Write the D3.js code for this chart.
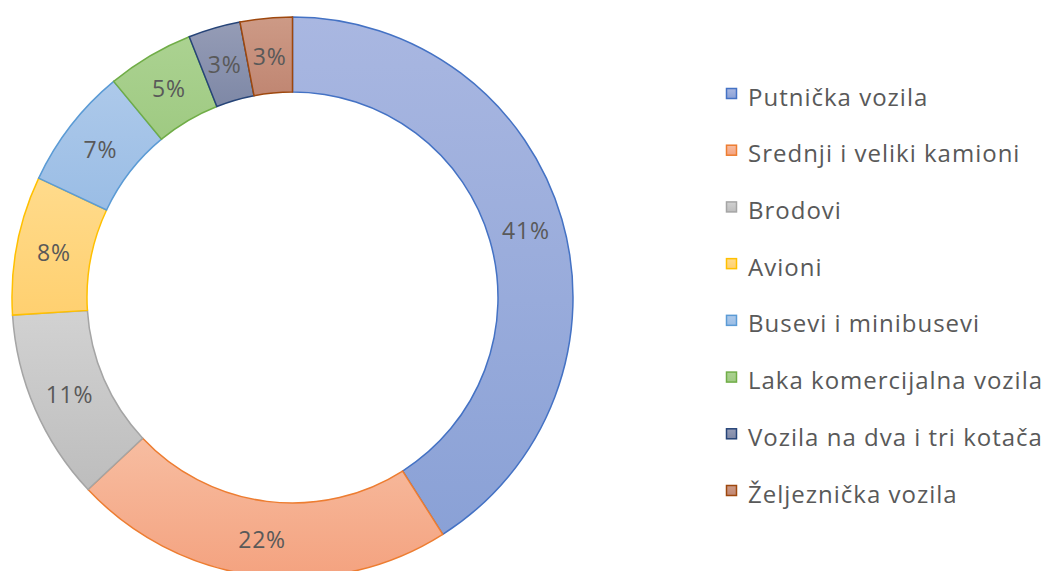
<!DOCTYPE html>
<html>
<head>
<meta charset="utf-8">
<script src="https://cdn.jsdelivr.net/npm/d3@7"></script>
<style>
  html, body { margin: 0; padding: 0; background: #fff; }
  svg { display: block; }
</style>
</head>
<body>
<div id="general"></div>
<script>
const w = 1049, h = 571;

// data
const categories = ["Putnička vozila", "Srednji i veliki kamioni", "Brodovi", "Avioni",
  "Busevi i minibusevi", "Laka komercijalna vozila", "Vozila na dva i tri kotača", "Željeznička vozila"];
const values = [41, 22, 11, 8, 7, 5, 3, 3];
const strokes = ["#4472C4", "#ED7D31", "#A5A5A5", "#FFC000", "#5B9BD5", "#70AD47", "#264478", "#9E480E"];
const fillTop = ["#a9b7e1", "#f7bda1", "#d2d2d2", "#ffdb8c", "#adc9ea", "#abd291", "#959cb6", "#cd9a86"];
const fillBottom = ["#8aa1d6", "#f4a27f", "#bdbdbd", "#ffd070", "#9abde5", "#9fca82", "#7e88a6", "#c08672"];

const cx = 292.5, cy = 297.5, rOuter = 280.5, rInner = 205.5;
const font = "Open Sans, sans-serif";

const svg = d3.select("#general").append("svg").attr("width", w).attr("height", h);
const defs = svg.append("defs");

categories.forEach((c, i) => {
  const g = defs.append("linearGradient").attr("id", "grad" + i)
    .attr("x1", 0).attr("y1", 0).attr("x2", 0).attr("y2", 1);
  g.append("stop").attr("offset", "0%").attr("stop-color", fillTop[i]);
  g.append("stop").attr("offset", "100%").attr("stop-color", fillBottom[i]);
});

const pie = d3.pie().sort(null).value(d => d.v);
const arcs = pie(values.map((v, i) => ({ v, i })));
const arc = d3.arc().innerRadius(rInner).outerRadius(rOuter);
const labelArc = d3.arc().innerRadius((rInner + rOuter) / 2).outerRadius((rInner + rOuter) / 2);

const g = svg.append("g").attr("transform", `translate(${cx},${cy})`);

g.selectAll("path")
  .data(arcs)
  .join("path")
    .attr("d", arc)
    .attr("fill", d => `url(#grad${d.data.i})`)
    .attr("stroke", d => strokes[d.data.i])
    .attr("stroke-width", 1.5)
    .attr("stroke-linejoin", "miter");

g.selectAll("text")
  .data(arcs)
  .join("text")
    .attr("transform", d => `translate(${labelArc.centroid(d)})`)
    .attr("text-anchor", "middle")
    .attr("dominant-baseline", "central")
    .attr("font-family", font)
    .attr("font-size", 23)
    .attr("letter-spacing", 0.8)
    .attr("fill", "#595959")
    .text(d => d.data.v + "%");

// legend
const legendY = d3.scalePoint().domain(categories).range([94, 491]);
const lg = svg.append("g").selectAll("g")
  .data(categories)
  .join("g")
    .attr("transform", d => `translate(726,${legendY(d)})`);

lg.append("rect")
  .attr("x", 0.5).attr("y", -5.5)
  .attr("width", 10).attr("height", 10)
  .attr("fill", (d, i) => `url(#grad${i})`)
  .attr("stroke", (d, i) => strokes[i])
  .attr("stroke-width", 1.5);

lg.append("text")
  .attr("x", 22)
  .attr("y", 2)
  .attr("dominant-baseline", "central")
  .attr("font-family", font)
  .attr("font-size", 24)
  .attr("letter-spacing", 1)
  .attr("fill", "#595959")
  .text(d => d);
</script>
</body>
</html>
